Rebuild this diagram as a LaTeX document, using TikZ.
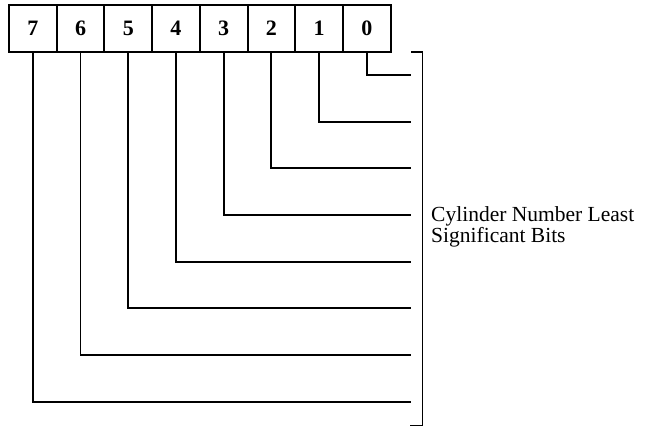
\documentclass[tikz,border=0pt]{standalone}
\usepackage{fontspec}
\setmainfont{Liberation Serif}
\begin{document}
\begin{tikzpicture}[x=1pt,y=-1pt,
  cell/.style={draw, line width=2pt, minimum width=47.7pt, minimum height=47pt, inner sep=0pt,
    font=\fontsize{22}{22}\selectfont\bfseries},
  wire/.style={line width=1.8pt},
  lbl/.style={anchor=north west, inner sep=0pt, align=left, font=\fontsize{21.5}{20.7}\selectfont}]
\useasboundingbox (0,0) rectangle (653,427);
\foreach \k in {0,...,7} {
  \node[cell] (b\k) at ({9+47.7*(7-\k)+23.85}, 28.5) {\k};
  \coordinate (e\k) at (411, {75+46.67*\k});
  \draw[wire] (b\k.south) |- (e\k);
}
\coordinate (brT) at (411,52);
\coordinate (brTR) at (422.5,52);
\coordinate (brBR) at (422.5,425.5);
\coordinate (brB) at (410,425.5);
\draw[wire] (brT) -- (brTR) -- (brBR) -- (brB);
\node[lbl] (label) at (431,206.5) {Cylinder Number Least\\Significant Bits};
\end{tikzpicture}
\end{document}
